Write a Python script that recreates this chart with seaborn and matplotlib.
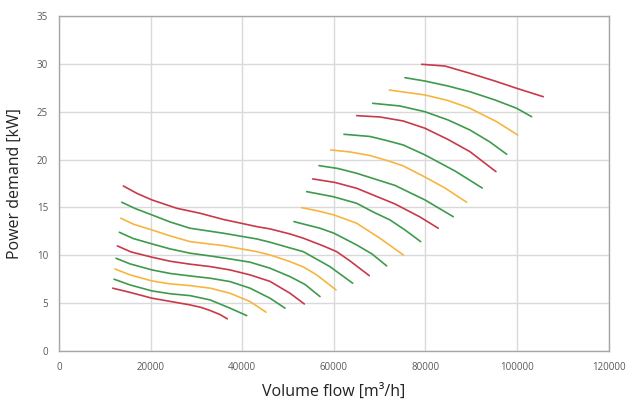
import pandas as pd
import matplotlib
matplotlib.use("Agg")
import matplotlib.pyplot as plt
import seaborn as sns

# lower family (S-shaped), bottom to top
low1_x = [11720, 15500, 20300, 24230, 28600, 31000, 33000, 35150, 36740]
low1_y = [6.56, 6.12, 5.51, 5.18, 4.81, 4.55, 4.22, 3.80, 3.35]
low2_x = [12000, 15500, 20300, 24230, 28600, 33000, 37330, 40980]
low2_y = [7.50, 6.90, 6.27, 5.98, 5.78, 5.33, 4.47, 3.69]
low3_x = [12200, 15500, 20300, 24230, 28600, 33000, 37330, 41700, 45190]
low3_y = [8.57, 7.95, 7.32, 7.01, 6.83, 6.56, 6.03, 5.16, 4.05]
low4_x = [12440, 15500, 20300, 24230, 28600, 33000, 37330, 41700, 46060, 49340]
low4_y = [9.69, 9.10, 8.47, 8.10, 7.84, 7.60, 7.25, 6.56, 5.51, 4.47]
low5_x = [12730, 15720, 20300, 24230, 28600, 33000, 37330, 41700, 46060, 50430, 53550]
low5_y = [10.98, 10.35, 9.80, 9.38, 9.07, 8.82, 8.47, 7.95, 7.27, 6.03, 4.91]
low6_x = [13160, 16150, 20300, 24230, 28600, 33000, 37330, 41700, 46060, 50430, 53700, 56980]
low6_y = [12.41, 11.76, 11.19, 10.67, 10.22, 9.93, 9.62, 9.28, 8.65, 7.77, 6.95, 5.68]
low7_x = [13470, 16370, 20300, 24230, 28600, 35870, 43160, 46060, 50430, 53330, 56260, 60470]
low7_y = [13.88, 13.23, 12.65, 12.03, 11.43, 11.01, 10.38, 10.04, 9.34, 8.78, 7.95, 6.38]
low8_x = [13690, 16590, 20300, 24230, 28600, 35870, 43160, 46060, 50430, 53330, 59160, 64110]
low8_y = [15.55, 14.90, 14.22, 13.49, 12.83, 12.31, 11.71, 11.37, 10.77, 10.38, 8.81, 7.08]
low9_x = [14040, 17030, 20300, 25690, 30780, 35870, 43160, 46060, 50430, 53330, 57700,
          60620, 63530, 67740]
low9_y = [17.25, 16.47, 15.79, 14.92, 14.40, 13.75, 13.00, 12.76, 12.23, 11.79, 10.98,
          10.38, 9.41, 7.87]

# upper family (arcs), bottom to top
up1_x = [51300, 56980, 60030, 64990, 68330, 71540]
up1_y = [13.52, 12.83, 12.31, 11.08, 10.14, 8.89]
up2_x = [52980, 56540, 60030, 64990, 70070, 75160]
up2_y = [14.98, 14.64, 14.22, 13.35, 11.78, 10.04]
up3_x = [54070, 59880, 64990, 68550, 72260, 75530, 78960]
up3_y = [16.66, 16.13, 15.44, 14.54, 13.70, 12.65, 11.43]
up4_x = [55380, 60250, 64990, 73350, 78810, 82800]
up4_y = [17.99, 17.62, 17.01, 15.37, 14.01, 12.83]
up5_x = [56760, 60910, 64990, 73350, 79900, 86070]
up5_y = [19.38, 19.08, 18.58, 17.31, 15.79, 14.04]
up6_x = [59310, 63530, 67890, 72260, 75160, 79900, 84260, 89000]
up6_y = [21.02, 20.81, 20.44, 19.82, 19.35, 18.19, 17.04, 15.55]
up7_x = [62210, 67890, 71160, 75160, 79900, 86450, 92400]
up7_y = [22.66, 22.43, 22.05, 21.54, 20.50, 18.82, 17.04]
up8_x = [64990, 70070, 75160, 79900, 84920, 89720, 95400]
up8_y = [24.61, 24.47, 24.05, 23.29, 22.12, 20.84, 18.75]
up9_x = [68480, 74440, 79900, 84920, 89720, 94090, 97740]
up9_y = [25.90, 25.62, 25.02, 24.16, 23.11, 21.85, 20.57]
up10_x = [72110, 79900, 84920, 89720, 95550, 100130]
up10_y = [27.29, 26.77, 26.19, 25.38, 23.98, 22.59]
up11_x = [75530, 79900, 84920, 89720, 95180, 99920, 103190]
up11_y = [28.58, 28.23, 27.71, 27.11, 26.25, 25.38, 24.50]
up12_x = [79180, 84260, 89720, 95180, 99920, 105730]
up12_y = [29.98, 29.80, 29.04, 28.23, 27.47, 26.59]

RED = "#c8394a"
GREEN = "#3e9a4c"
ORANGE = "#f7b540"

curves = [
    (low1_x, low1_y, RED), (low2_x, low2_y, GREEN), (low3_x, low3_y, ORANGE),
    (low4_x, low4_y, GREEN), (low5_x, low5_y, RED), (low6_x, low6_y, GREEN),
    (low7_x, low7_y, ORANGE), (low8_x, low8_y, GREEN), (low9_x, low9_y, RED),
    (up1_x, up1_y, GREEN), (up2_x, up2_y, ORANGE), (up3_x, up3_y, GREEN),
    (up4_x, up4_y, RED), (up5_x, up5_y, GREEN), (up6_x, up6_y, ORANGE),
    (up7_x, up7_y, GREEN), (up8_x, up8_y, RED), (up9_x, up9_y, GREEN),
    (up10_x, up10_y, ORANGE), (up11_x, up11_y, GREEN), (up12_x, up12_y, RED),
]

rows = []
palette = {}
for i, (xs, ys, col) in enumerate(curves):
    palette[i] = col
    for x, y in zip(xs, ys):
        rows.append({"curve": i, "flow": x, "power": y})
df = pd.DataFrame(rows)

sns.set_style("white")
plt.rcParams["font.family"] = ["Open Sans", "DejaVu Sans"]

fig = plt.figure(figsize=(6.42, 4.08), dpi=100)
ax = fig.add_axes([0.092, 0.14, 0.856, 0.82])

sns.lineplot(data=df, x="flow", y="power", hue="curve", palette=palette,
             units="curve", estimator=None, sort=False, legend=False,
             linewidth=1.2, solid_joinstyle="round", solid_capstyle="round", ax=ax)

ax.set_xlim(0, 120000)
ax.set_ylim(0, 35)
ax.set_xticks(range(0, 120001, 20000))
ax.set_yticks(range(0, 36, 5))
ax.grid(True, color="#d9d9d9", linewidth=1.0)
ax.set_axisbelow(True)
for s in ax.spines.values():
    s.set_color("#a6a6a6")
    s.set_linewidth(1.0)
ax.tick_params(length=0, labelsize=7, labelcolor="#595959", pad=8)

ax.set_xlabel("Volume flow [m³/h]", fontsize=11.5, color="#222222", labelpad=8)
ax.set_ylabel("Power demand [kW]", fontsize=11.5, color="#222222", labelpad=10)

fig.savefig("out.png", dpi=100)
